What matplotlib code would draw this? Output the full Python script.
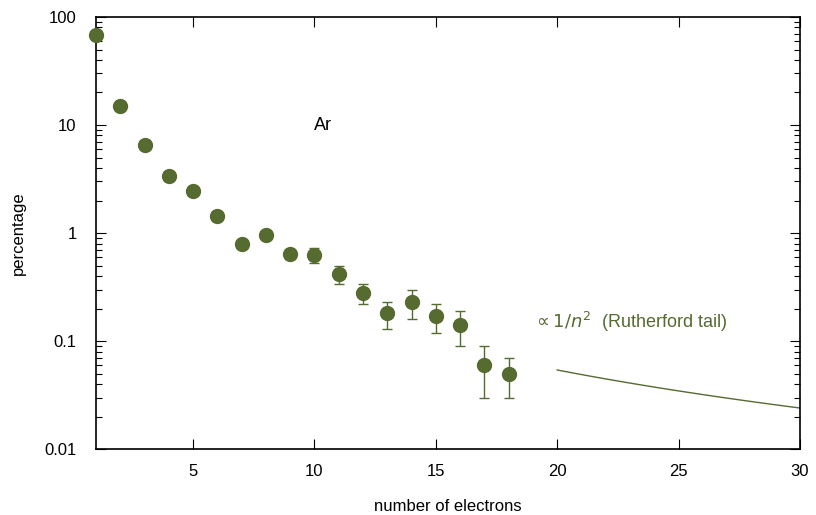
import numpy as np
import matplotlib.pyplot as plt
from matplotlib.ticker import FixedLocator, FuncFormatter, LogLocator, NullFormatter

plt.rcParams['font.family'] = ['Liberation Sans', 'DejaVu Sans']
plt.rcParams['mathtext.fontset'] = 'dejavusans'

green = '#556b2f'

n = [1, 2, 3, 4, 5, 6, 7, 8, 9, 10, 11, 12, 13, 14, 15, 16, 17, 18]
pct = [68, 15.0, 6.5, 3.4, 2.45, 1.43, 0.79, 0.96, 0.64, 0.63, 0.42, 0.28,
       0.18, 0.23, 0.17, 0.14, 0.06, 0.05]
err_lo = [68, 15.0, 6.5, 3.4, 2.45, 1.43, 0.72, 0.96, 0.57, 0.53, 0.34, 0.22,
          0.13, 0.16, 0.12, 0.09, 0.03, 0.03]
err_hi = [68, 15.0, 6.5, 3.4, 2.45, 1.43, 0.84, 0.96, 0.70, 0.73, 0.50, 0.34,
          0.23, 0.30, 0.22, 0.19, 0.09, 0.07]

# Rutherford tail ~ c / n^2
tail_c = 21.6
tail_n = np.linspace(20, 30, 50)

pct = np.array(pct)
yerr = [pct - np.array(err_lo), np.array(err_hi) - pct]

fig = plt.figure(figsize=(8.16, 5.15), dpi=100)
ax = fig.add_axes([0.1176, 0.128, 0.8627, 0.839])

eb = ax.errorbar(n, pct, yerr=yerr, fmt='o', color=green, ms=10, capsize=3.5,
                 elinewidth=1, capthick=1, ecolor=green, zorder=3)
eb[0].set_clip_on(False)
ax.plot(tail_n, tail_c / tail_n**2, color=green, lw=1)

ax.set_yscale('log')
ax.set_xlim(1, 30)
ax.set_ylim(0.01, 100)

ax.xaxis.set_major_locator(FixedLocator([5, 10, 15, 20, 25, 30]))
ax.yaxis.set_major_locator(LogLocator(base=10, numticks=10))
ax.yaxis.set_minor_locator(LogLocator(base=10, subs=np.arange(2, 10), numticks=10))
ax.yaxis.set_major_formatter(FuncFormatter(lambda v, p: '%g' % v))
ax.yaxis.set_minor_formatter(NullFormatter())

ax.tick_params(which='both', direction='in', top=True, right=True, labelsize=12)
ax.tick_params(which='major', length=7, width=0.8)
ax.tick_params(which='minor', length=4, width=0.8)
ax.tick_params(axis='x', pad=11)
ax.tick_params(axis='y', pad=14)
for s in ax.spines.values():
    s.set_linewidth(1.2)

ax.set_xlabel('number of electrons', fontsize=12, labelpad=14)
ax.set_ylabel('percentage', fontsize=12, labelpad=13)

ax.text(10, 10, 'Ar', fontsize=13, ha='left', va='center')
ax.text(19, 0.15, r'$\propto 1/n^2$  (Rutherford tail)', fontsize=13,
        color=green, ha='left', va='center')

fig.savefig('out.png', dpi=100)
